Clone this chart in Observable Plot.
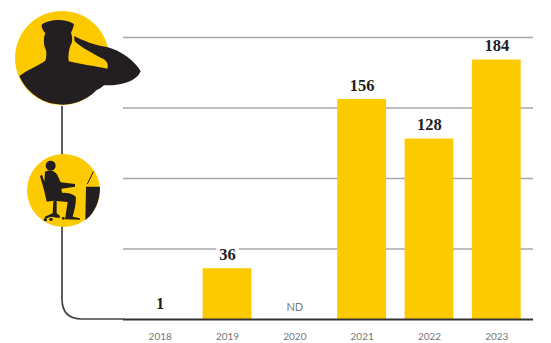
<!DOCTYPE html>
<html>
<head>
<meta charset="utf-8">
<style>html,body{margin:0;padding:0;background:#fff}svg{display:block}</style>
<script src="https://cdn.jsdelivr.net/npm/d3@7"></script>
<script src="https://cdn.jsdelivr.net/npm/@observablehq/plot@0.6"></script>
</head>
<body>
<div id="chart"></div>
<script>
const years = ["2018","2019","2020","2021","2022","2023"];
const values = [1,36,null,156,128,184];
const gridValues = [50,100,150,200];
const labelFont = "'Liberation Serif', 'DejaVu Serif', serif";
const yellow = "#fdca00", ink = "#231f20";
const table = years.map((year,i)=>({year,value:values[i]}));
const known = table.filter(d=>d.value!=null);

const ns = "http://www.w3.org/2000/svg";
function icons(){
  const g = document.createElementNS(ns,"g");
  g.innerHTML = `
    <path d="M62 106V299Q62 319 82 319H124" fill="none" stroke="#444" stroke-width="1.7"/>
    <circle cx="62" cy="58" r="47" fill="${yellow}"/>
    <g transform="scale(0.33333)" fill="${ink}">
      <path d="M58,228C85,208 112,198 136,182C140,170 140,158 137,148C130,135 130,112 136,100C128,90 124,82 125,74C145,58 195,54 222,72C220,84 216,92 213,98C218,112 218,128 212,135C206,150 204,168 206,184C240,192 290,200 322,206C326,196 322,186 312,178C280,162 240,140 224,124L222,108C250,122 285,136 320,141C360,150 405,182 422,214C414,236 385,250 350,254C335,256 320,256 312,256C305,262 298,268 290,270A141,141 0 0 1 58,228Z"/>
    </g>
    <circle cx="63.5" cy="190.5" r="36.5" fill="${yellow}"/>
    <g transform="scale(0.33333)" fill="${ink}">
      <circle cx="152" cy="497" r="15"/>
      <path d="M135,515C150,508 165,512 172,525L182,547L225,552L225,560L184,566L186,578C205,578 222,582 228,592C228,615 222,635 218,650L240,655L240,659L195,658L203,606L160,602L140,605L132,570L120,528L126,524L133,545Z"/>
      <path d="M160,603L170,603L170,640L180,648L178,654L152,650L138,656L134,650L158,640Z"/>
      <circle cx="136" cy="659" r="5"/><circle cx="153" cy="658" r="5"/><circle cx="190" cy="655" r="4"/>
      <path d="M258,560L300,560C300,600 285,640 256,660Z"/>
      <path d="M262,552L280,515" stroke="${ink}" stroke-width="3" fill="none"/>
    </g>`;
  return g;
}

const labelStyle = {x:"year",y:"value",text:d=>String(d.value),dy:-14,
  fontFamily:labelFont,fontWeight:"bold",fontSize:16.5,fill:ink};

const chart = Plot.plot({
  width:551, height:343,
  marginLeft:123, marginRight:18, marginTop:37, marginBottom:24,
  style:{background:"#fff", overflow:"visible"},
  x:{domain:years, round:false, paddingInner:0.275, paddingOuter:0.1825, label:null},
  y:{domain:[0,200], axis:null, label:null},
  marks:[
    Plot.ruleY(gridValues,{stroke:"#a8a8a8",strokeWidth:1.4}),
    // the 2018 bar (value 1) is thinner than the baseline in the reference
    Plot.barY(known.filter(d=>d.value>1),{x:"year",y:"value",fill:yellow}),
    // only the 2019 label interrupts a grid line, so only it carries a white halo
    Plot.text(known.filter(d=>d.year==="2019"),{...labelStyle,stroke:"#fff",strokeWidth:8,paintOrder:"stroke"}),
    Plot.text(known.filter(d=>d.year!=="2019"),labelStyle),
    Plot.text(table.filter(d=>d.value==null),{x:"year",y:()=>0,text:()=>"ND",dy:-12,
      fontFamily:"Lato, sans-serif",fontSize:11,fill:"#777"}),
    Plot.ruleY([0],{stroke:"#333",strokeWidth:1.8}),
    Plot.axisX({tickSize:0,tickPadding:13,fontFamily:"Lato, sans-serif",fontSize:10,fill:"#777",label:null}),
    icons
  ]
});
document.getElementById("chart").append(chart);
</script>
</body>
</html>
